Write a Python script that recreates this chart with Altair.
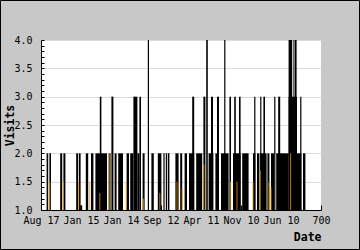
import altair as alt
import pandas as pd

# ---- data ----
x_labels = ["Aug 17", "Jan 15", "Jan 14", "Sep 12", "Apr 11", "Nov 10", "Jun 10", "700"]
x_ticks = [0, 100, 200, 300, 400, 500, 600, 700]
y_ticks = [1.0, 1.5, 2.0, 2.5, 3.0, 3.5, 4.0]

bar_start = [14, 21, 48, 56, 88, 95, 95, 112, 125, 136, 147, 169, 176, 184, 193, 214,
             223, 231, 241, 246, 254, 267, 276, 292, 306, 312, 317, 336, 348, 359, 370, 378,
             388, 406, 413, 419, 425, 436, 440, 450, 458, 471, 480, 483, 495, 503, 530, 533,
             540, 548, 548, 556, 566, 575, 583, 588, 593, 619, 619, 631, 634, 640, 648, 655]
bar_end = [18, 25, 53, 61, 93, 99, 103, 118, 131, 165, 151, 174, 181, 189, 205, 220,
           231, 241, 246, 250, 259, 270, 282, 301, 309, 315, 321, 344, 353, 365, 383, 383,
           403, 411, 417, 431, 430, 445, 445, 469, 461, 475, 499, 487, 499, 519, 536, 536,
           546, 564, 551, 560, 571, 583, 586, 619, 598, 640, 628, 633, 639, 651, 651, 661]
bar_visits = [2, 2, 2, 2, 2, 2, 1.08, 2, 2, 2, 3, 2, 3, 2, 2, 2,
              2, 3, 2, 3, 2, 4, 2, 2, 2, 2, 2, 2, 2, 2, 2, 3,
              2, 3, 4, 2, 3, 2, 3, 2, 4, 3, 2, 3, 3, 2, 2, 3,
              2, 2, 3, 3, 2, 2, 3, 2, 3, 3, 4, 4, 4, 2, 3, 2]

orange_date = [22, 56, 94, 122, 147, 172, 213, 256, 297, 340, 353, 407, 474, 490,
               530, 548, 570, 575, 624]
orange_visits = [1.5, 1.5, 1.5, 1.5, 1.3, 2.0, 1.5, 1.2, 1.3, 1.5, 1.4, 1.8, 1.5, 1.5,
                 1.5, 1.7, 1.5, 1.4, 2.0]

bars = pd.DataFrame({"start": bar_start, "end": bar_end, "visits": bar_visits})
bars["base"] = 1.0
oranges = pd.DataFrame({"date": orange_date, "visits": orange_visits})
oranges["base"] = 1.0

minor_ticks = [round(1 + 0.1 * i, 1) for i in range(31)]
label_js = "[" + ",".join("'" + s + "'" for s in x_labels) + "]"
font = "DejaVu Sans Mono"

xscale = alt.Scale(domain=[0, 700], nice=False, zero=False)
yscale = alt.Scale(domain=[1, 4], nice=False, zero=False)

black = alt.Chart(bars).mark_rect(color="black").encode(
    x=alt.X("start:Q", scale=xscale, axis=alt.Axis(
        values=x_ticks, labelExpr=label_js + "[round(datum.value/100)]",
        title="Date", tickSize=0, labelPadding=5, grid=False,
        domainColor="black", labelColor="black", labelFont=font, labelFontSize=10,
        labelAngle=0, labelFlush=False, labelOverlap=False,
        titleFont=font, titleFontSize=11.5, titleFontWeight="bold", titleColor="black",
        titleX=280, titleY=30, titleAlign="right", titleBaseline="alphabetic")),
    x2="end:Q",
    y=alt.Y("visits:Q", scale=yscale, axis=alt.Axis(
        values=y_ticks, format=".1f", title="Visits", tickSize=0, labelPadding=9,
        grid=True, gridColor="#dcdcdc", domainColor="black", labelColor="black",
        labelFont=font, labelFontSize=10,
        titleFont=font, titleFontSize=11.5, titleFontWeight="bold", titleColor="black",
        titleAngle=270, titleX=-27.5, titleY=85, titleAlign="center",
        titleBaseline="alphabetic")),
    y2="base:Q",
)

orange = alt.Chart(oranges).mark_rule(color="#e69500", strokeWidth=1, opacity=0.8).encode(
    x=alt.X("date:Q", scale=xscale, axis=alt.Axis(
        orient="bottom", values=x_ticks, labels=False, domain=False, grid=False,
        tickSize=5, offset=-5, tickColor="black", title="")),
    y=alt.Y("visits:Q", scale=yscale, axis=alt.Axis(
        orient="left", values=minor_ticks, labels=False, domain=False, grid=False,
        tickSize=3, offset=-3, tickColor="black", title="")),
    y2="base:Q",
)

border = alt.Chart(alt.Data(values=[{}])).mark_rect(
    fillOpacity=0, stroke="black", strokeWidth=1
).encode(
    x=alt.value(-40.5), x2=alt.value(318.5), y=alt.value(-39.5), y2=alt.value(209.5)
)

chart = alt.layer(black, orange, border).resolve_axis(
    x="independent", y="independent"
).properties(
    width=280, height=170,
    autosize=alt.AutoSizeParams(type="none"),
    padding={"left": 41, "top": 40, "right": 39, "bottom": 40},
    background="#c8c8c8",
).configure_view(fill="white", strokeWidth=0)

chart.save("out.html", embed_options={"renderer": "svg", "actions": False})
